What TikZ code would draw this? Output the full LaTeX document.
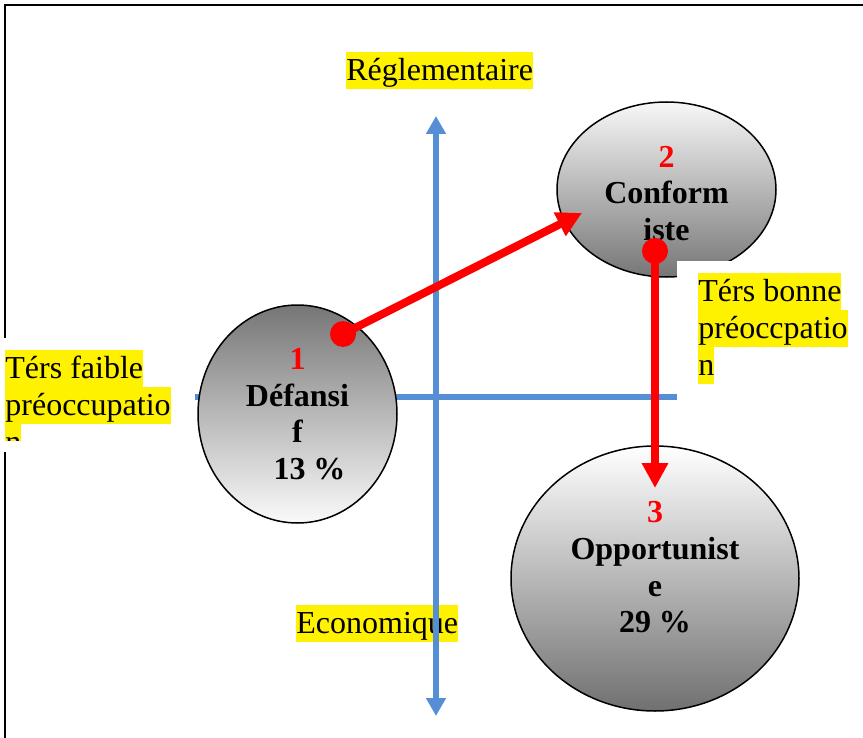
\documentclass[tikz,border=0pt]{standalone}
\usepackage{fontspec}
\setmainfont{Liberation Serif}
\usepackage{tikz}
\usetikzlibrary{shapes.geometric}
\usetikzlibrary{positioning, arrows.meta}
\definecolor{axisblue}{RGB}{85,142,213}
\definecolor{blobgray}{RGB}{118,118,118}

\begin{document}
\begin{tikzpicture}[x=0.5pt, y=-0.5pt,
		blob/.style={ellipse, draw, line width=0.75pt, inner sep=0pt},
		blobtext/.style={align=center, inner sep=0pt, font=\fontsize{16}{18.35}\selectfont\bfseries},
		hl/.style={fill=yellow, inner sep=0pt, anchor=north west, text height=14pt, text depth=4.5pt, font=\fontsize{16}{18.35}\selectfont},
		blueaxis/.style={draw=axisblue, line width=3pt},
		redarrow/.style={draw=red, line width=4pt, -{Triangle[length=12.5pt, width=12.5pt]}},
		reddot/.style={circle, fill=red, inner sep=0pt, minimum size=13pt},
		whitebox/.style={fill=white, inner sep=0pt, anchor=north west},
		>=Triangle
		]
		\useasboundingbox (0,0) rectangle (863,738);
		\draw[line width=1pt] (5,738) -- (5,5) -- (863,5);
		
		\coordinate (xstart) at (195,397);
		\coordinate (xend) at (677,397);
		\draw[blueaxis] (xstart) -- (xend);
		
		\node[blob, minimum width=99.5pt, minimum height=109pt, top color=blobgray, bottom color=white!98!black] (def) at (297.5,414) {};
		\node[blob, minimum width=109.5pt, minimum height=87.5pt, top color=white!97!black, bottom color=blobgray] (conf) at (666.5,189.5) {};
		\node[blob, minimum width=144pt, minimum height=132.5pt, top color=white, bottom color=blobgray!95!black] (opp) at (655,578.5) {};
		\node[blobtext] (deftext) at (def.center) {\textcolor{red}{1}\\Défansi\\f\\\hspace*{0.75em}13 \%};
		\node[blobtext] (conftext) at ([yshift=-2pt]conf.center) {\textcolor{red}{2}\\Conform\\iste};
		\node[blobtext] (opptext) at ([yshift=5.5pt]opp.center) {\textcolor{red}{3}\\Opportunist\\e\\29 \%};
		
		\node[hl] (regl) at (346,52) {Réglementaire};
		\node[hl] (econ) at (296,605) {Economique};
		
		\coordinate (ytop) at (436,116);
		\coordinate (ybot) at (436,716);
		\draw[blueaxis, {Triangle[length=9pt, width=9.5pt]}-{Triangle[length=9pt, width=9.5pt]}] (ybot) -- (ytop);
		
		\node[reddot] (dot1) at (343,334) {};
		\node[reddot] (dot2) at (655,251) {};
		\coordinate (tip1) at (582,213);
		\coordinate (tip2) at (655,488);
		\draw[redarrow] (dot1.center) -- (tip1);
		\draw[redarrow] (dot2.center) -- (tip2);
		
		\node[whitebox, minimum width=88pt, minimum height=57pt] (leftbox) at (0,338) {};
		\begin{scope}
			\clip (leftbox.north west) rectangle ([yshift=6pt]leftbox.south east);
			\foreach \txt [count=\i from 0] in {Térs faible, préoccupatio, n}
			\node[hl] (low\i) at (5,350+37*\i) {\txt};
		\end{scope}
		
		\node[whitebox, minimum width=93pt, minimum height=70pt] (rightbox) at (677,261) {};
		\foreach \txt [count=\i from 0] in {Térs bonne, préoccpatio, n}
		\node[hl] (high\i) at (698,273+37*\i) {\txt};
	\end{tikzpicture}
\end{document}
